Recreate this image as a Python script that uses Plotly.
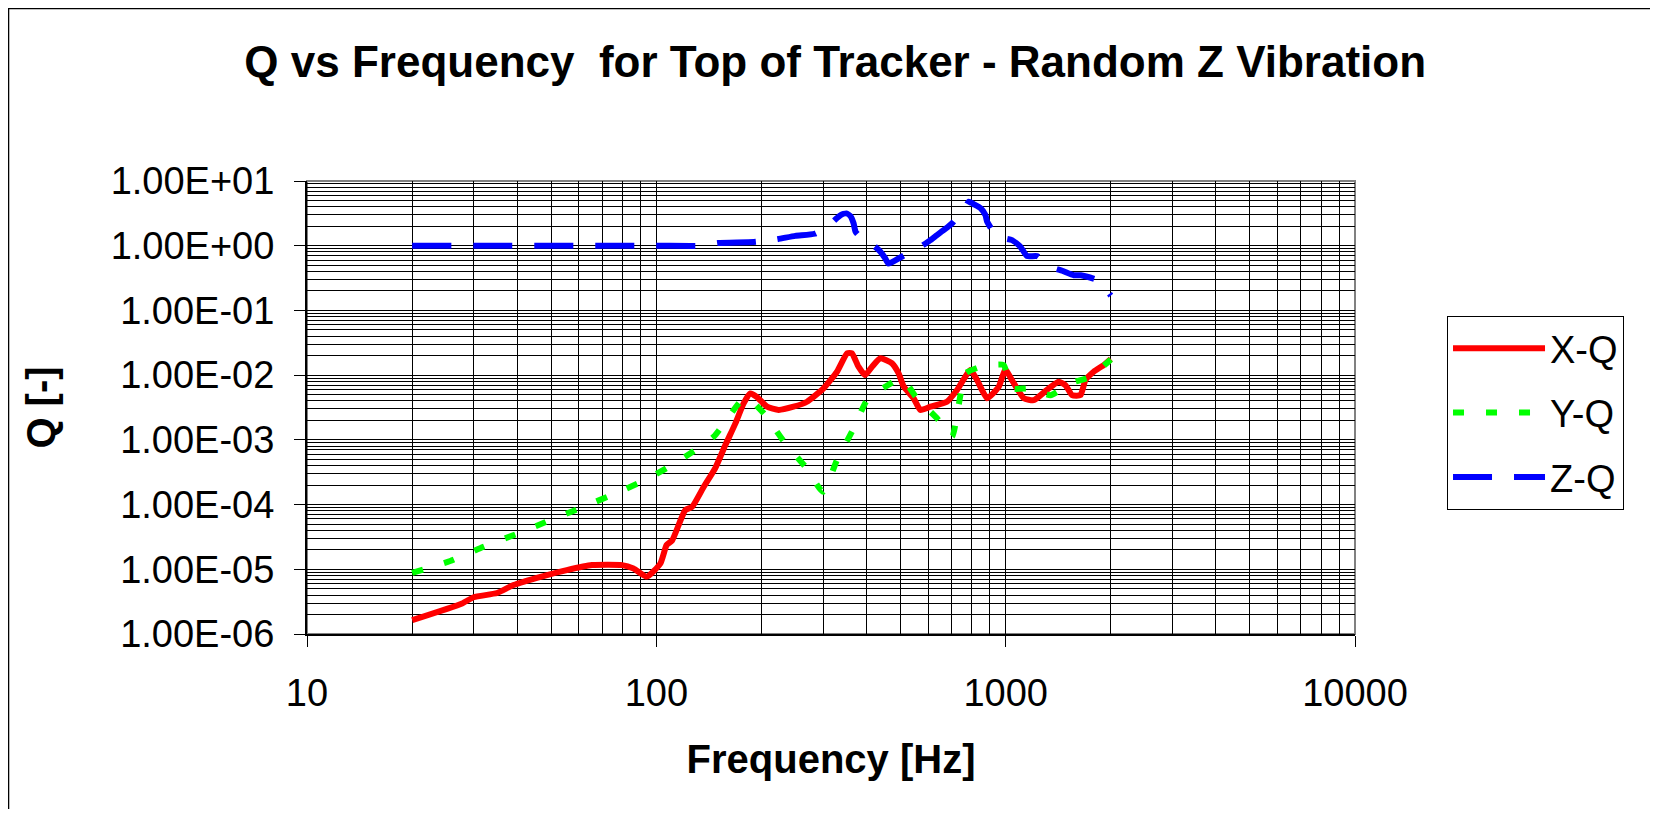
"""
Q vs Frequency chart for the top of the tracker (random Z vibration)
Log-log line chart with Excel-style dense grid and boxed legend
"""

import plotly.graph_objects as go


# Series colours (Excel defaults)
COLORS = {
    'x': '#ff0000',
    'y': '#00ff00',
    'z': '#0000ff',
    'grid': '#000000',
    'border': '#808080',
}

FONT = 'Liberation Sans, Arial, sans-serif'

# X-Q series: frequency [Hz] / Q [-]
X_FREQ = [20, 27.8, 30, 35, 39, 47.5, 55.4, 65.4, 79.8, 86, 94, 102.7, 107, 111, 121,
          126.6, 136.7, 147.6, 157.6, 168.4, 177.8, 185.8, 194, 207.4, 224, 247, 270,
          301, 329, 351.5, 363, 379, 396, 414.5, 438, 473, 494, 511, 545, 570, 609,
          679, 726, 793, 828, 885, 955, 998, 1055, 1127, 1203, 1312, 1418, 1483, 1549,
          1637, 1692, 1786, 1909, 2000]
X_Q = [1.64e-6, 2.97e-6, 3.7e-6, 4.3e-6, 5.7e-6, 7.85e-6, 9.7e-6, 1.16e-5, 1.16e-5,
       1.03e-5, 7.7e-6, 1.23e-5, 2.37e-5, 2.8e-5, 8.2e-5, 9.2e-5, 1.88e-4, 3.7e-4,
       8.3e-4, 1.8e-3, 3.66e-3, 5.2e-3, 4.6e-3, 3.25e-3, 2.9e-3, 3.25e-3, 3.88e-3,
       6.25e-3, 1.13e-2, 2.17e-2, 2.17e-2, 1.35e-2, 1.0e-2, 1.35e-2, 1.82e-2, 1.52e-2,
       1.06e-2, 6.6e-3, 4.4e-3, 2.9e-3, 3.25e-3, 3.88e-3, 5.9e-3, 1.2e-2, 8.4e-3,
       4.4e-3, 6.6e-3, 1.2e-2, 7.5e-3, 4.4e-3, 4.1e-3, 5.9e-3, 7.9e-3, 7.0e-3, 4.9e-3,
       4.9e-3, 8.4e-3, 1.13e-2, 1.43e-2, 1.77e-2]

# Y-Q series
Y_FREQ = [20, 25.7, 32, 39.7, 49.2, 61.3, 77.1, 95, 117, 146, 174, 183, 203, 234, 267,
          300, 329, 367, 401, 452, 504, 557, 636, 702, 734, 767, 848, 920, 987, 1043,
          1177, 1343, 1532, 1746, 2000]
Y_Q = [8.8e-6, 1.34e-5, 2.23e-5, 3.5e-5, 5.6e-5, 9.05e-5, 1.52e-4, 2.54e-4, 4.9e-4,
       1.12e-3, 3.9e-3, 4.4e-3, 2.57e-3, 8.8e-4, 3.85e-4, 1.58e-4, 4.9e-4, 1.5e-3,
       4.1e-3, 6.6e-3, 8.9e-3, 4.4e-3, 2.15e-3, 1.12e-3, 3.5e-3, 1.06e-2, 1.35e-2,
       1.45e-2, 1.43e-2, 6.25e-3, 6.25e-3, 4.9e-3, 7.5e-3, 9.4e-3, 1.75e-2]

# Z-Q series
Z_FREQ = [20, 100, 135, 150, 190, 220, 250, 284, 310, 326, 337, 350, 360, 367, 372, 390,
          405, 419, 438, 452, 462, 500, 545, 577, 609, 636, 670, 702, 734, 759, 784, 815,
          848, 875, 885, 914, 934, 990, 1043, 1101, 1152, 1230, 1343, 1452, 1567, 1640,
          1828, 1909, 2000]
Z_Q = [1.0, 1.0, 1.0, 1.1, 1.14, 1.25, 1.42, 1.53, 2.0, 2.56, 2.98, 3.16, 2.85, 2.22,
       1.64, 1.25, 1.06, 1.0, 0.81, 0.64, 0.53, 0.66, 0.86, 1.0, 1.22, 1.46, 1.8, 2.22,
       2.98, 3.56, 4.79, 4.3, 3.79, 2.98, 2.35, 1.75, 1.38, 1.3, 1.22, 0.97, 0.69, 0.69,
       0.47, 0.41, 0.35, 0.35, 0.295, 0.232, 0.17]

# Axis ticks
X_TICK_VALS = [10, 100, 1000, 10000]
X_TICK_TEXT = ['10', '100', '1000', '10000']
Y_TICK_VALS = [1e-6, 1e-5, 1e-4, 1e-3, 1e-2, 1e-1, 1e0, 1e1]
Y_TICK_TEXT = ['1.00E-06', '1.00E-05', '1.00E-04', '1.00E-03',
               '1.00E-02', '1.00E-01', '1.00E+00', '1.00E+01']


def _minor_vals(first_exp, last_exp):
    """2..9 multiples inside each decade, for the minor grid"""
    return [m * 10 ** e for e in range(first_exp, last_exp) for m in range(2, 10)]


def build_figure() -> go.Figure:
    fig = go.Figure()

    series = [
        ('X-Q', X_FREQ, X_Q, COLORS['x'], 'solid'),
        ('Y-Q', Y_FREQ, Y_Q, COLORS['y'], '11px,22px'),
        ('Z-Q', Z_FREQ, Z_Q, COLORS['z'], '39px,22px'),
    ]
    for name, xs, ys, color, dash in series:
        fig.add_trace(go.Scatter(
            x=xs,
            y=ys,
            name=name,
            legendgroup=name,
            mode='lines',
            line=dict(color=color, width=6, dash=dash, shape='spline', smoothing=0.5),
            hovertemplate='%{x} Hz<br>%{y:.2E}<extra>' + name + '</extra>'
        ))

    axis_font = dict(family=FONT, size=38, color='black')

    fig.update_layout(
        width=1642,
        height=801,
        autosize=False,
        margin=dict(l=299, r=295, t=173, b=175),
        paper_bgcolor='white',
        plot_bgcolor='white',
        font=dict(family=FONT, color='black'),
        title=dict(
            text='<b>Q vs Frequency \u00a0for Top of Tracker - Random Z Vibration</b>',
            font=dict(family=FONT, size=44, color='black'),
            x=0.504, xref='paper', xanchor='center',
            y=0.9326, yref='container', yanchor='middle'
        ),
        xaxis=dict(
            type='log',
            range=[1, 4],
            tickmode='array',
            tickvals=X_TICK_VALS,
            ticktext=X_TICK_TEXT,
            tickfont=axis_font,
            ticks='outside',
            ticklen=11,
            tickcolor='black',
            ticklabelstandoff=13,
            showgrid=True,
            gridcolor=COLORS['grid'],
            gridwidth=1,
            minor=dict(tickmode='array', tickvals=_minor_vals(1, 4),
                       showgrid=True, gridcolor=COLORS['grid'], gridwidth=1, ticks=''),
            showline=True,
            linecolor='black',
            linewidth=2,
            zeroline=False,
            title=dict(text='<b>Frequency [Hz]</b>',
                       font=dict(family=FONT, size=40, color='black'),
                       standoff=32)
        ),
        yaxis=dict(
            type='log',
            range=[-6, 1],
            tickmode='array',
            tickvals=Y_TICK_VALS,
            ticktext=Y_TICK_TEXT,
            tickfont=axis_font,
            ticks='outside',
            ticklen=11,
            tickcolor='black',
            ticklabelstandoff=12,
            showgrid=True,
            gridcolor=COLORS['grid'],
            gridwidth=1,
            minor=dict(tickmode='array', tickvals=_minor_vals(-6, 1),
                       showgrid=True, gridcolor=COLORS['grid'], gridwidth=1, ticks=''),
            showline=True,
            linecolor='black',
            linewidth=2,
            zeroline=False,
            title=dict(text='<b>Q [-]</b>',
                       font=dict(family=FONT, size=40, color='black'),
                       standoff=43)
        ),
        legend=dict(
            x=1.0878, xanchor='left',
            y=0.702, yanchor='top',
            bgcolor='white',
            bordercolor='black',
            borderwidth=1,
            font=dict(family=FONT, size=38, color='black'),
            itemwidth=92,
            traceorder='grouped',
            tracegroupgap=12
        ),
        showlegend=True
    )

    # Plot-area border (grey) and the outer chart frame
    fig.add_shape(type='rect', xref='paper', yref='paper', x0=0, x1=1, y0=0, y1=1,
                  line=dict(color=COLORS['border'], width=2), layer='below')
    fig.add_shape(type='rect', xref='paper', yref='paper',
                  x0=-0.2848, x1=1.35, y0=-0.45, y1=1.3808,
                  line=dict(color='black', width=1.5))

    return fig


fig = build_figure()
fig.write_html("out.html")
